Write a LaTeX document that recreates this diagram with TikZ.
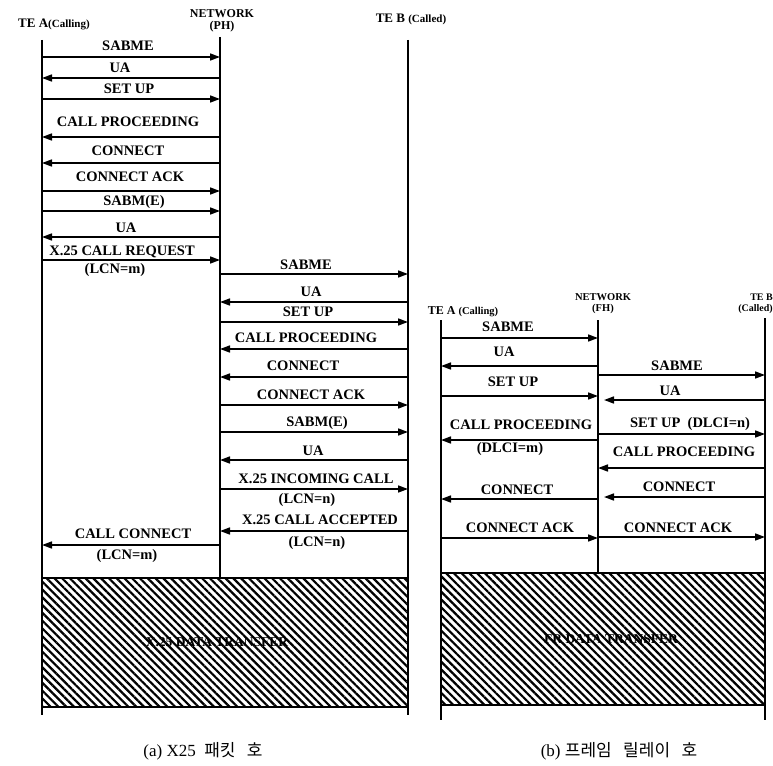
\documentclass[tikz,border=0pt]{standalone}
\usepackage{fontspec}
\setmainfont{Liberation Serif}
\newfontfamily\krfont{Noto Sans CJK KR}
\usetikzlibrary{arrows.meta,patterns.meta}
\begin{document}
\begin{tikzpicture}[x=1pt,y=-1pt,
  life/.style={line width=1.4pt},
  msg/.style={line width=1.6pt,-{Triangle[length=10pt,width=7pt]}},
  lbl/.style={font=\fontsize{14.5}{15}\selectfont\bfseries,inner sep=0pt},
  hdr/.style={font=\fontsize{13}{13}\selectfont\bfseries,inner sep=0pt,align=center},
  hatchbox/.style={line width=1.4pt,pattern={Lines[angle=-45,distance=5.5pt,line width=2.2pt]}},
  htxt/.style={font=\fontsize{13.5}{14}\selectfont\bfseries,inner sep=0pt},
  captext/.style={font=\fontsize{17}{18}\selectfont,inner sep=0pt}
]
\useasboundingbox (0,0) rectangle (773,765);
% ---------------- (a) ----------------
\coordinate (A1) at (42,40);  \coordinate (A1b) at (42,715);
\coordinate (N1) at (220,37); \coordinate (N1b) at (220,578);
\coordinate (B1) at (408,40); \coordinate (B1b) at (408,715);
\draw[life] (A1) -- (A1b);
\draw[life] (N1) -- (N1b);
\draw[life] (B1) -- (B1b);
\draw[hatchbox] (42,578) rectangle (408,707);
\node[htxt] (dta) at (217,642) {X.25 DATA TRANSFER};

\node[hdr] (ha1) at (54,24) {TE A{\fontsize{11}{11}\selectfont(Calling)}};
\node[hdr,font=\fontsize{12}{12.5}\selectfont\bfseries] (hn1) at (222,21) {NETWORK\\(PH)};
\node[hdr] (hb1) at (411,19) {TE B {\fontsize{11}{11}\selectfont(Called)}};

% left
\draw[msg] (A1 |- 0,57) -- (N1 |- 0,57);   \node[lbl] (a1) at (128,46) {SABME};
\draw[msg] (N1 |- 0,78) -- (A1 |- 0,78);   \node[lbl] (a2) at (120,68) {UA};
\draw[msg] (A1 |- 0,99) -- (N1 |- 0,99);   \node[lbl] (a3) at (129,89) {SET UP};
\draw[msg] (N1 |- 0,137) -- (A1 |- 0,137); \node[lbl] (a4) at (128,122) {CALL PROCEEDING};
\draw[msg] (N1 |- 0,163) -- (A1 |- 0,163); \node[lbl] (a5) at (128,151) {CONNECT};
\draw[msg] (A1 |- 0,191) -- (N1 |- 0,191); \node[lbl] (a6) at (130,177) {CONNECT ACK};
\draw[msg] (A1 |- 0,211) -- (N1 |- 0,211); \node[lbl] (a7) at (134,202) {SABM(E)};
\draw[msg] (N1 |- 0,237) -- (A1 |- 0,237); \node[lbl] (a8) at (126,228) {UA};
\draw[msg] (A1 |- 0,260) -- (N1 |- 0,260); \node[lbl] (a9) at (122,252) {X.25 CALL REQUEST};
\node[lbl] (a9b) at (115,270) {(LCN=m)};
\draw[msg] (N1 |- 0,545) -- (A1 |- 0,545); \node[lbl] (a10) at (133,534) {CALL CONNECT};
\node[lbl] (a10b) at (127,556) {(LCN=m)};
% right
\draw[msg] (N1 |- 0,274) -- (B1 |- 0,274); \node[lbl] (b1) at (306,265) {SABME};
\draw[msg] (B1 |- 0,302) -- (N1 |- 0,302); \node[lbl] (b2) at (311,292) {UA};
\draw[msg] (N1 |- 0,322) -- (B1 |- 0,322); \node[lbl] (b3) at (308,312) {SET UP};
\draw[msg] (B1 |- 0,349) -- (N1 |- 0,349); \node[lbl] (b4) at (306,338) {CALL PROCEEDING};
\draw[msg] (B1 |- 0,377) -- (N1 |- 0,377); \node[lbl] (b5) at (303,366) {CONNECT};
\draw[msg] (N1 |- 0,405) -- (B1 |- 0,405); \node[lbl] (b6) at (311,395) {CONNECT ACK};
\draw[msg] (N1 |- 0,432) -- (B1 |- 0,432); \node[lbl] (b7) at (317,423) {SABM(E)};
\draw[msg] (B1 |- 0,460) -- (N1 |- 0,460); \node[lbl] (b8) at (313,451) {UA};
\draw[msg] (N1 |- 0,489) -- (B1 |- 0,489); \node[lbl] (b9) at (316,479) {X.25 INCOMING CALL};
\node[lbl] (b9b) at (307,500) {(LCN=n)};
\draw[msg] (B1 |- 0,531) -- (N1 |- 0,531); \node[lbl] (b10) at (320,520) {X.25 CALL ACCEPTED};
\node[lbl] (b10b) at (317,543) {(LCN=n)};

% ---------------- (b) ----------------
\coordinate (A2) at (441,320); \coordinate (A2b) at (441,720);
\coordinate (N2) at (598,320); \coordinate (N2b) at (598,573);
\coordinate (B2) at (765,318); \coordinate (B2b) at (765,720);
\draw[life] (A2) -- (A2b);
\draw[life] (N2) -- (N2b);
\draw[life] (B2) -- (B2b);
\draw[hatchbox] (441,573) rectangle (765,705);
\node[htxt] (dtb) at (611,639) {FR DATA TRANSFER};

\node[hdr,font=\fontsize{12}{12}\selectfont\bfseries] (ha2) at (463,312) {TE A {\fontsize{10.5}{11}\selectfont(Calling)}};
\node[hdr,font=\fontsize{10.5}{11}\selectfont\bfseries] (hn2) at (603,304) {NETWORK\\(FH)};
\node[hdr,font=\fontsize{10}{10.5}\selectfont\bfseries,anchor=east,align=right] (hb2) at (773,304) {TE B\\(Called)};

% left
\draw[msg] (A2 |- 0,338) -- (N2 |- 0,338); \node[lbl] (c1) at (508,327) {SABME};
\draw[msg] (N2 |- 0,366) -- (A2 |- 0,366); \node[lbl] (c2) at (504,352) {UA};
\draw[msg] (A2 |- 0,396) -- (N2 |- 0,396); \node[lbl] (c3) at (513,382) {SET UP};
\draw[msg] (N2 |- 0,440) -- (A2 |- 0,440); \node[lbl] (c4) at (521,425) {CALL PROCEEDING};
\node[lbl] (c4b) at (510,449) {(DLCI=m)};
\draw[msg] (N2 |- 0,499) -- (A2 |- 0,499); \node[lbl] (c5) at (517,490) {CONNECT};
\draw[msg] (A2 |- 0,538) -- (N2 |- 0,538); \node[lbl] (c6) at (520,528) {CONNECT ACK};
% right
\draw[msg] (N2 |- 0,375) -- (B2 |- 0,375); \node[lbl] (d1) at (677,366) {SABME};
\draw[msg,shorten >=6pt] (B2 |- 0,400) -- (N2 |- 0,400); \node[lbl] (d2) at (670,391) {UA};
\draw[msg] (N2 |- 0,434) -- (B2 |- 0,434); \node[lbl] (d3) at (690,424) {SET UP\ \ (DLCI=n)};
\draw[msg] (B2 |- 0,468) -- (N2 |- 0,468); \node[lbl] (d4) at (684,452) {CALL PROCEEDING};
\draw[msg,shorten >=6pt] (B2 |- 0,497) -- (N2 |- 0,497); \node[lbl] (d5) at (679,487) {CONNECT};
\draw[msg] (N2 |- 0,537) -- (B2 |- 0,537); \node[lbl] (d6) at (678,528) {CONNECT ACK};

% captions
\node[captext] (capa) at (203,751) {(a) X25\ \ {\krfont 패킷\ \ \ 호}};
\node[captext] (capb) at (619,751) {(b)\ {\krfont 프레임\ \ \ 릴레이\ \ \ 호}};
\end{tikzpicture}
\end{document}
